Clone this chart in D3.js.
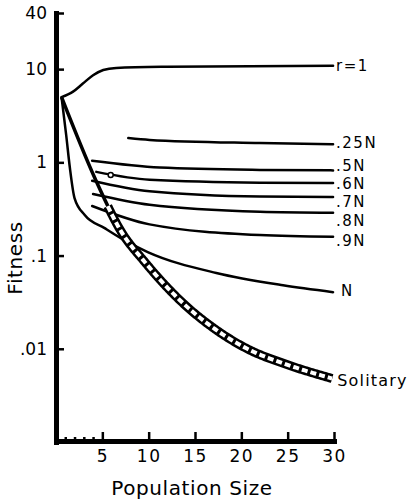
<!DOCTYPE html>
<html>
<head>
<meta charset="utf-8">
<script src="https://cdn.jsdelivr.net/npm/d3@7"></script>
<style>
  body { margin: 0; background: #fff; }
  svg { display: block; font-family: "DejaVu Sans", sans-serif; }
</style>
</head>
<body>
<svg id="chart" width="411" height="501"></svg>
<script>
// values: [population size, fitness]
const r1 = [[0.6, 5.0], [1.8, 5.7], [2.9, 7.0], [4.0, 8.6], [5.1, 9.8], [6.5, 10.3], [12, 10.6], [29.9, 10.9]]
const n25 = [[7.8, 1.82], [10.1, 1.74], [22, 1.61], [29.9, 1.56]]
const n50 = [[3.9, 1.04], [11.2, 0.88], [22, 0.83], [29.9, 0.82]]
const n60 = [[4.35, 0.79], [10.1, 0.65], [22, 0.605], [29.9, 0.6]]
const n70 = [[3.9, 0.635], [10.1, 0.49], [22, 0.43], [29.9, 0.425]]
const n80 = [[4.0, 0.457], [10.1, 0.35], [22, 0.295], [29.9, 0.288]]
const n90 = [[3.9, 0.34], [10.1, 0.216], [22, 0.166], [29.9, 0.159]]
const nFull = [[0.6, 5.0], [1.1, 1.96], [1.5, 0.87], [2.0, 0.414], [3.1, 0.272], [5.25, 0.197],
  [7.7, 0.14], [9.9, 0.109], [17.3, 0.065], [24.5, 0.048], [29.9, 0.0405]]
const solitary = [[0.6, 5.0], [4.2, 0.674], [7.05, 0.18], [9.56, 0.0858], [13.7, 0.0309],
  [17.3, 0.0159], [20.9, 0.0097], [24.5, 0.007], [29.8, 0.0048]]
const marker = [[5.9, 0.73]]

const seriesNames = ['r=1', '.25N', '.5N', '.6N', '.7N', '.8N', '.9N', 'N']
const seriesData = [r1, n25, n50, n60, n70, n80, n90, nFull]

const xTicks = [5, 10, 15, 20, 25, 30]
const xMinorTicks = [1, 2, 3, 4]
const yTicks = [40, 10, 1, 0.1, 0.01]
const yTickLabels = ['40', '10', '1', '.1', '.01']

const svg = d3.select('#chart')
svg.append('rect').attr('width', 411).attr('height', 501).attr('fill', '#fff')

const x = d3.scaleLinear().domain([0, 30]).range([56, 334])
const y = d3.scaleLog().domain([0.001, 40]).range([442, 13])

const line = d3.line()
  .x((d) => x(d[0]))
  .y((d) => y(d[1]))
  .curve(d3.curveMonotoneX)

// label nudges so the stacked names don't collide
const labelNudge = { 'r=1': 0, '.25N': -2, '.5N': -5, '.6N': 1, '.7N': 5, '.8N': 8, '.9N': 4, 'N': -2 }

const plot = svg.append('g')

plot.selectAll('path.series')
  .data(seriesData)
  .join('path')
  .attr('class', 'series')
  .attr('d', line)
  .attr('fill', 'none')
  .attr('stroke', '#000')
  .attr('stroke-width', 2.5)
  .attr('stroke-linecap', 'round')

// solitary curve: single heavy line, then a hatched band
const solPath = plot.append('path')
  .attr('d', line(solitary))
  .attr('fill', 'none')
  .attr('stroke', '#000')
  .attr('stroke-width', 3.5)

const node = solPath.node()
const total = node.getTotalLength()
let lo = 0, hi = total
while (hi - lo > 0.5) {
  const mid = (lo + hi) / 2
  if (node.getPointAtLength(mid).x < x(5.6)) lo = mid
  else hi = mid
}
const bandPts = d3.range(lo, total, 1.5).map((l) => {
  const p = node.getPointAtLength(l)
  return [p.x, p.y]
})
bandPts.push([node.getPointAtLength(total).x, node.getPointAtLength(total).y])
const band = d3.line()
plot.append('path')
  .attr('d', band(bandPts))
  .attr('fill', 'none')
  .attr('stroke', '#000')
  .attr('stroke-width', 9)
plot.append('path')
  .attr('d', band(bandPts))
  .attr('fill', 'none')
  .attr('stroke', '#fff')
  .attr('stroke-width', 4)
  .attr('stroke-dasharray', '6 3')

plot.selectAll('circle.mark')
  .data(marker)
  .join('circle')
  .attr('class', 'mark')
  .attr('cx', (d) => x(d[0]))
  .attr('cy', (d) => y(d[1]))
  .attr('r', 2.5)
  .attr('fill', '#fff')
  .attr('stroke', '#000')
  .attr('stroke-width', 1.5)

// series names at the line ends
plot.selectAll('text.name')
  .data(seriesData)
  .join('text')
  .attr('class', 'name')
  .attr('x', (d, i) => x(d[d.length - 1][0]) + (seriesNames[i] === 'N' ? 8 : 3))
  .attr('y', (d, i) => y(d[d.length - 1][1]) + labelNudge[seriesNames[i]])
  .attr('dy', '0.36em')
  .attr('font-size', 15)
  .attr('letter-spacing', 1.5)
  .text((d, i) => seriesNames[i])

plot.append('text')
  .attr('x', x(solitary[solitary.length - 1][0]) + 5)
  .attr('y', y(solitary[solitary.length - 1][1]) + 2)
  .attr('dy', '0.36em')
  .attr('font-size', 16)
  .attr('letter-spacing', 1.2)
  .text('Solitary')

// axes
const xAxis = svg.append('g')
  .attr('transform', `translate(0,${y(0.001) - 1})`)
  .call(d3.axisBottom(x).tickValues(xTicks).tickSize(-9).tickSizeOuter(0).tickPadding(9))
svg.append('g')
  .attr('transform', `translate(0,${y(0.001) - 1})`)
  .call(d3.axisBottom(x).tickValues(xMinorTicks).tickSize(-4).tickSizeOuter(0).tickFormat(''))
  .call((g) => g.select('.domain').remove())

svg.append('g')
  .attr('transform', `translate(${x(0)},0)`)
  .call(d3.axisLeft(y).tickValues(yTicks).tickFormat((d, i) => yTickLabels[i])
    .tickSize(-8).tickSizeOuter(0).tickPadding(9))

svg.selectAll('.domain')
  .attr('stroke', '#000')
  .attr('stroke-width', 5)
  .attr('stroke-linecap', 'square')
svg.selectAll('.tick line')
  .attr('stroke', '#000')
  .attr('stroke-width', 2.5)
svg.selectAll('.tick text')
  .attr('fill', '#000')
  .attr('font-family', '"DejaVu Sans", sans-serif')
  .attr('font-size', 17)
xAxis.selectAll('.tick text').attr('letter-spacing', 1.5)

svg.append('text')
  .attr('x', 192)
  .attr('y', 495)
  .attr('text-anchor', 'middle')
  .attr('font-size', 20)
  .attr('letter-spacing', 0.6)
  .text('Population Size')

svg.append('text')
  .attr('transform', 'translate(22,258) rotate(-90)')
  .attr('text-anchor', 'middle')
  .attr('font-size', 20)
  .attr('letter-spacing', 0.6)
  .text('Fitness')
</script>
</body>
</html>
